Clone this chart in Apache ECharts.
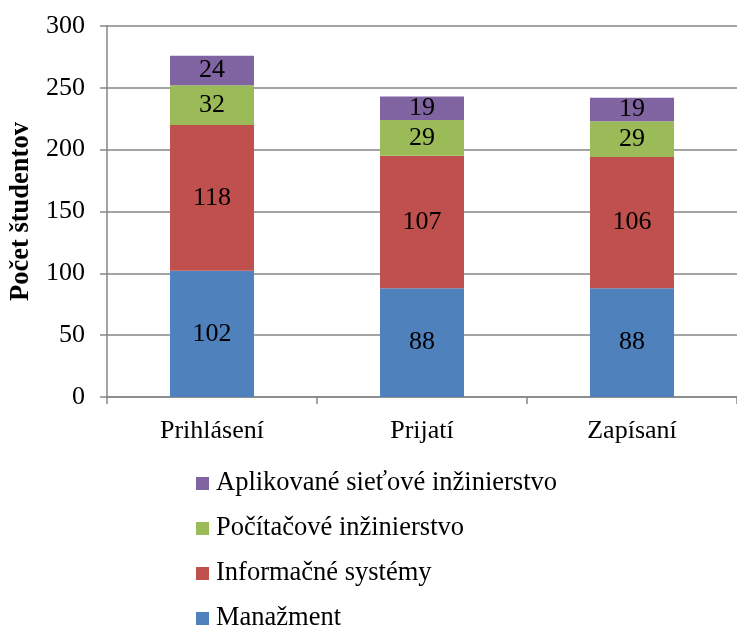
<!DOCTYPE html>
<html>
<head>
<meta charset="utf-8">
<script src="https://cdn.jsdelivr.net/npm/echarts@6/dist/echarts.min.js"></script>
<style>
  html, body { margin: 0; padding: 0; background: #fff; }
  #chart { width: 737px; height: 628px; }
</style>
</head>
<body>
<div id="chart"></div>
<script>
// kategórie a hodnoty
const categories = ['Prihlásení', 'Prijatí', 'Zapísaní']
const manazment = [102, 88, 88]
const informacne = [118, 107, 106]
const pocitacove = [32, 29, 29]
const aplikovane = [24, 19, 19]

const font = '"Liberation Serif", "Times New Roman", serif'
const axisColor = '#868686'

const chart = echarts.init(document.getElementById('chart'))

function barSeries(name, data, color) {
  return {
    name: name,
    type: 'bar',
    stack: 'spolu',
    barWidth: '40%',
    data: data,
    itemStyle: { color: color },
    label: {
      show: true,
      position: 'inside',
      color: '#000',
      fontFamily: font,
      fontSize: 26,
    },
  }
}

chart.setOption({
  animation: false,
  textStyle: { fontFamily: font },
  grid: {
    left: 107,
    top: 26,
    width: 637,
    height: 371,
  },
  legend: {
    orient: 'vertical',
    left: 196,
    top: 470,
    height: 200,
    padding: 0,
    itemWidth: 13,
    itemHeight: 13,
    itemGap: 18,
    icon: 'rect',
    textStyle: { fontFamily: font, fontSize: 26.5, color: '#000', padding: [0, 0, 0, 2] },
    data: ['Aplikované sieťové inžinierstvo', 'Počítačové inžinierstvo', 'Informačné systémy', 'Manažment'],
  },
  xAxis: {
    type: 'category',
    data: categories,
    axisLine: { lineStyle: { color: axisColor, width: 1.5 } },
    axisTick: { show: true, length: 7, lineStyle: { color: axisColor, width: 1.5 } },
    axisLabel: { color: '#000', fontFamily: font, fontSize: 26, margin: 21 },
  },
  yAxis: {
    type: 'value',
    min: 0,
    max: 300,
    interval: 50,
    name: 'Počet študentov',
    nameLocation: 'middle',
    nameGap: 70,
    nameTextStyle: { color: '#000', fontFamily: font, fontSize: 26.5, fontWeight: 'bold' },
    axisLine: { show: true, lineStyle: { color: axisColor, width: 1.5 } },
    axisTick: { show: true, length: 7, lineStyle: { color: axisColor, width: 1.5 } },
    axisLabel: { color: '#000', fontFamily: font, fontSize: 26, margin: 22 },
    splitLine: { lineStyle: { color: axisColor, width: 1.5 } },
  },
  series: [
    barSeries('Manažment', manazment, '#4F81BD'),
    barSeries('Informačné systémy', informacne, '#C0504D'),
    barSeries('Počítačové inžinierstvo', pocitacove, '#9BBB59'),
    barSeries('Aplikované sieťové inžinierstvo', aplikovane, '#8064A2'),
  ],
})
</script>
</body>
</html>
